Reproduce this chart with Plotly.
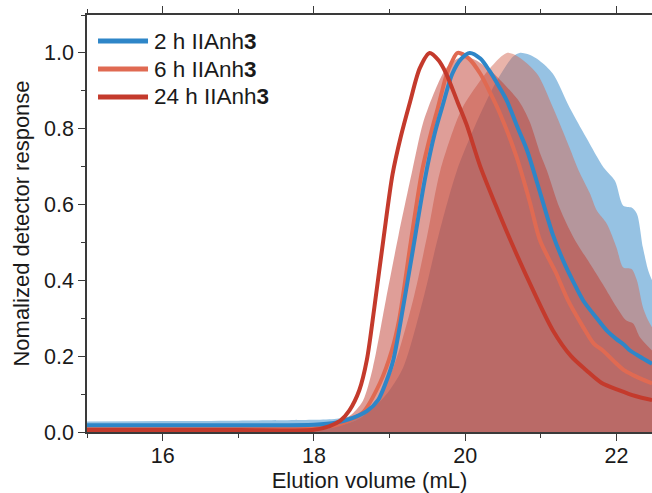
import plotly.graph_objects as go

# ---- line traces ----
x_2h = [15.0, 16.0, 17.0, 18.0, 18.3, 18.5, 18.7, 18.85, 18.95, 19.05, 19.18, 19.3, 19.47, 19.6, 19.7,
        19.83, 19.95, 20.06, 20.2, 20.32, 20.45, 20.55, 20.7, 20.82, 21.0, 21.16, 21.3, 21.42, 21.56,
        21.74, 21.87, 22.0, 22.1, 22.18, 22.3, 22.47]
y_2h = [0.018, 0.018, 0.018, 0.019, 0.025, 0.036, 0.055, 0.085, 0.13, 0.19, 0.33, 0.47, 0.67, 0.79, 0.86,
        0.945, 0.985, 1.0, 0.985, 0.953, 0.91, 0.874, 0.80, 0.742, 0.625, 0.52, 0.45, 0.40, 0.347,
        0.30, 0.268, 0.245, 0.23, 0.215, 0.20, 0.18]

x_6h = [15.0, 16.0, 17.0, 18.0, 18.2, 18.4, 18.64, 18.87, 19.03, 19.13, 19.28, 19.43, 19.55, 19.64, 19.75,
        19.82, 19.9, 20.05, 20.2, 20.33, 20.46, 20.68, 20.85, 20.99, 21.2, 21.36, 21.55, 21.7, 21.82,
        21.95, 22.1, 22.22, 22.35, 22.47]
y_6h = [0.010, 0.010, 0.010, 0.010, 0.015, 0.025, 0.05, 0.128, 0.215, 0.30, 0.50, 0.689, 0.79, 0.856, 0.94,
        0.975, 1.0, 0.985, 0.945, 0.895, 0.84, 0.725, 0.61, 0.505, 0.42, 0.347, 0.28, 0.233, 0.215,
        0.19, 0.163, 0.15, 0.138, 0.128]

x_24h = [15.0, 16.0, 17.0, 18.0, 18.2, 18.35, 18.47, 18.6, 18.7, 18.8, 18.92, 19.04, 19.15, 19.27, 19.4,
         19.53, 19.65, 19.75, 19.9, 20.02, 20.2, 20.4, 20.6, 20.9, 21.16, 21.4, 21.6, 21.8, 22.04, 22.25, 22.47]
y_24h = [0.005, 0.005, 0.005, 0.006, 0.015, 0.03, 0.057, 0.11, 0.19, 0.33, 0.51, 0.68, 0.78, 0.87, 0.96,
         1.0, 0.98, 0.945, 0.87, 0.81, 0.70, 0.60, 0.505, 0.373, 0.268, 0.20, 0.163, 0.13, 0.11, 0.095, 0.084]

# ---- filled traces ----
fx_2h = [15.0, 16.0, 17.0, 18.0, 18.3, 18.5, 18.7, 18.87, 19.0, 19.18, 19.44, 19.65, 19.89, 20.18, 20.42,
         20.63, 20.72, 20.85, 20.98, 21.16, 21.38, 21.6, 21.83, 21.98, 22.09, 22.2, 22.27, 22.35, 22.42, 22.47]
fy_2h = [0.028, 0.029, 0.030, 0.032, 0.035, 0.042, 0.055, 0.08, 0.11, 0.17, 0.347, 0.52, 0.689, 0.83, 0.927,
         0.99, 1.0, 0.995, 0.98, 0.945, 0.856, 0.777, 0.698, 0.663, 0.597, 0.592, 0.576, 0.487, 0.426, 0.40]

fx_6h = [15.0, 16.0, 17.0, 18.0, 18.2, 18.4, 18.6, 18.8, 19.05, 19.31, 19.5, 19.67, 19.95, 20.2, 20.35,
         20.55, 20.7, 20.95, 21.16, 21.38, 21.5, 21.65, 21.74, 21.87, 22.0, 22.09, 22.2, 22.27, 22.35, 22.42, 22.47]
fy_6h = [0.012, 0.012, 0.012, 0.012, 0.014, 0.02, 0.035, 0.07, 0.17, 0.347, 0.52, 0.689, 0.85, 0.927, 0.965,
         1.0, 0.99, 0.945, 0.856, 0.75, 0.69, 0.629, 0.584, 0.55, 0.487, 0.434, 0.43, 0.40, 0.329, 0.294, 0.276]

fx_24h = [15.0, 16.0, 17.0, 18.0, 18.2, 18.38, 18.52, 18.65, 18.78, 18.95, 19.12, 19.3, 19.44, 19.6, 19.75,
          19.9, 20.0, 20.15, 20.35, 20.55, 20.72, 20.85, 21.0, 21.08, 21.25, 21.43, 21.65, 21.82, 22.0,
          22.13, 22.22, 22.31, 22.47]
fy_24h = [0.005, 0.005, 0.005, 0.006, 0.01, 0.03, 0.05, 0.083, 0.17, 0.347, 0.52, 0.689, 0.813, 0.90, 0.96,
          0.985, 0.99, 0.98, 0.95, 0.91, 0.87, 0.82, 0.73, 0.69, 0.59, 0.514, 0.444, 0.39, 0.33,
          0.294, 0.286, 0.25, 0.215]

names = ["2 h IIAnh<b>3</b>", "6 h IIAnh<b>3</b>", "24 h IIAnh<b>3</b>"]
line_colors = ["#2e86c8", "#e06a52", "#c43a2c"]
fill_colors = ["rgba(46,134,200,0.5)", "rgba(212,105,85,0.5)", "rgba(192,62,50,0.5)"]

FONT = "Arial, Liberation Sans, Helvetica, sans-serif"
TXT = "#1a1a1a"
AX = "#3a3a3a"

fig = go.Figure()

# fills: blue at bottom, then salmon, then dark red
for fx, fy, fc in [(fx_2h, fy_2h, fill_colors[0]), (fx_6h, fy_6h, fill_colors[1]), (fx_24h, fy_24h, fill_colors[2])]:
    fig.add_trace(go.Scatter(x=fx, y=fy, mode="lines", fill="tozeroy", fillcolor=fc,
                             line=dict(width=0, shape="spline", smoothing=0.8),
                             showlegend=False, hoverinfo="skip"))

# lines: salmon, blue, dark red (dark red on top)
for xs, ys, nm, col in [(x_6h, y_6h, names[1], line_colors[1]),
                        (x_2h, y_2h, names[0], line_colors[0]),
                        (x_24h, y_24h, names[2], line_colors[2])]:
    fig.add_trace(go.Scatter(x=xs, y=ys, mode="lines", name=nm, showlegend=False,
                             line=dict(color=col, width=4, shape="spline", smoothing=0.8)))

# legend drawn as line samples + text in the top-left corner
leg_y = [0.9376, 0.8705, 0.8034]
for nm, col, ly in zip(names, line_colors, leg_y):
    fig.add_shape(type="line", xref="paper", yref="paper", x0=0.0195, x1=0.108, y0=ly, y1=ly,
                  line=dict(color=col, width=5))
    fig.add_annotation(xref="paper", yref="paper", x=0.1150, y=ly, text=nm, showarrow=False,
                       xanchor="left", yanchor="middle", font=dict(family=FONT, size=22.5, color=TXT))

axis_common = dict(showline=True, linecolor=AX, linewidth=1.5, ticks="outside",
                   ticklen=7, tickwidth=1.2, tickcolor=AX, showgrid=False, zeroline=False,
                   tickfont=dict(family=FONT, size=21.5, color=TXT))

fig.update_xaxes(range=[15, 22.47], tick0=16, dtick=2, mirror="ticks", ticklabelstandoff=-4,
                 minor=dict(dtick=1, ticks="outside", ticklen=4, tickcolor=AX, tickwidth=1.2),
                 title=dict(text="Elution volume (mL)", font=dict(family=FONT, size=22, color=TXT),
                            standoff=8),
                 **axis_common)
fig.update_yaxes(range=[0, 1.1], tick0=0, dtick=0.2, tickformat=".1f", mirror=False,
                 minor=dict(dtick=0.1, ticks="outside", ticklen=4, tickcolor=AX, tickwidth=1.2),
                 title=dict(text="Nomalized detector response", font=dict(family=FONT, size=22, color=TXT),
                            standoff=8),
                 **axis_common)

fig.update_layout(
    width=652, height=493,
    margin=dict(l=87, r=0, t=15, b=61),
    paper_bgcolor="white", plot_bgcolor="white",
    font=dict(family=FONT, size=22, color=TXT),
    showlegend=False,
)

fig.write_html("out.html")
